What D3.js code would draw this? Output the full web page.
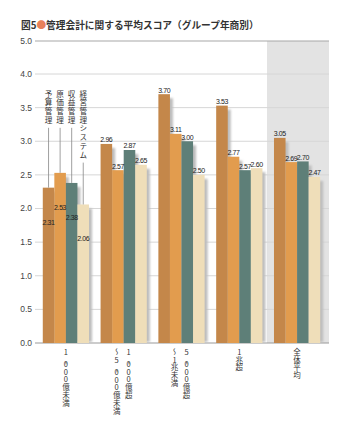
<!DOCTYPE html>
<html>
<head>
<meta charset="utf-8">
<script src="https://cdn.jsdelivr.net/npm/d3@7"></script>
<style>
  body { margin: 0; background: #fff; }
  svg { display: block; font-family: "Liberation Sans", "Noto Sans CJK JP", sans-serif; }
  .jp { font-family: "Noto Sans CJK JP", sans-serif; }
  .vert { writing-mode: vertical-rl; text-orientation: upright; }
</style>
</head>
<body>
<svg width="350" height="438"></svg>
<script>
// groups (x categories); each label is split into vertical columns, right column first
var groups = ['lt1000', '1000to5000', '5000to1cho', 'gt1cho', 'all'];
var groupLabels = [
    ['1,000億未満'],
    ['1,000億超', '～5,000億未満'],
    ['5,000億超', '～1兆未満'],
    ['1兆超'],
    ['全体平均']
];
var series = ['予算管理', '原価管理', '収益管理', '経営管理システム'];
var budgetValues = [2.31, 2.96, 3.70, 3.53, 3.05];
var costValues = [2.53, 2.57, 3.11, 2.77, 2.69];
var revenueValues = [2.38, 2.87, 3.00, 2.57, 2.70];
var systemValues = [2.06, 2.65, 2.50, 2.60, 2.47];
var yTicks = [0, 0.5, 1, 1.5, 2, 2.5, 3, 3.5, 4, 5];
var colors = ['#c4874a', '#e29c4e', '#5e7f78', '#efdeb9'];

var svg = d3.select('svg');
var plot = {l: 35, r: 329, t: 41, b: 343};

var seriesValues = [budgetValues, costValues, revenueValues, systemValues];
var data = groups.map(function(g, i) {
    return series.map(function(s, j) {
        return {group: g, gi: i, series: s, si: j, value: seriesValues[j][i]};
    });
});

// the axis is compressed above 4.0
var y = d3.scaleLinear().domain([0, 4, 5]).range([plot.b, 74, plot.t]);
var x = d3.scaleBand().domain(groups).range([37, 326]).paddingInner(0.2).paddingOuter(0.1);
var xs = d3.scaleBand().domain(series).range([0, x.bandwidth()]);

// title
var title = svg.append('text')
    .attr('class', 'jp')
    .attr('x', 21).attr('y', 29)
    .style('font-size', '9.7px')
    .style('font-weight', 'bold')
    .attr('fill', '#333');
title.append('tspan').text('図5');
title.append('tspan').attr('fill', '#e8805a').text('●');
title.append('tspan').text('管理会計に関する平均スコア（グループ年商別）');

// gray panel behind total
svg.append('rect')
    .attr('x', x('all') - 7)
    .attr('y', plot.t)
    .attr('width', plot.r - (x('all') - 7))
    .attr('height', plot.b - plot.t)
    .attr('fill', '#e3e3e3');

// grid
svg.append('g').selectAll('line')
    .data(yTicks)
    .enter().append('line')
    .attr('x1', plot.l).attr('x2', plot.r)
    .attr('y1', function(d) { return y(d); })
    .attr('y2', function(d) { return y(d); })
    .attr('stroke', function(d) { return d === 5 ? '#a8a8a8' : (d === 0 ? '#999' : '#d6d6d6'); })
    .attr('stroke-width', function(d) { return d === 5 ? 1.2 : 1; });

svg.append('g').selectAll('text')
    .data(yTicks)
    .enter().append('text')
    .attr('x', 32)
    .attr('y', function(d) { return y(d); })
    .attr('dy', '0.35em')
    .attr('text-anchor', 'end')
    .style('font-size', '8.5px')
    .attr('fill', '#444')
    .text(function(d) { return d.toFixed(1); });

// shadows
var defs = svg.append('defs');
defs.append('filter').attr('id', 'blur')
    .attr('x', '-50%').attr('width', '200%')
    .append('feGaussianBlur').attr('stdDeviation', 1.3);

var flat = d3.merge(data);

svg.append('g').selectAll('rect')
    .data(flat)
    .enter().append('rect')
    .attr('x', function(d) { return x(d.group) + xs(d.series) + 3; })
    .attr('y', function(d) { return y(d.value) + 4; })
    .attr('width', xs.bandwidth())
    .attr('height', function(d) { return plot.b - 1 - y(d.value) - 4; })
    .attr('fill', '#bdbdbd')
    .attr('filter', 'url(#blur)');

svg.append('g').selectAll('rect')
    .data(flat)
    .enter().append('rect')
    .attr('x', function(d) { return x(d.group) + xs(d.series); })
    .attr('y', function(d) { return y(d.value); })
    .attr('width', xs.bandwidth())
    .attr('height', function(d) { return plot.b - y(d.value); })
    .attr('fill', function(d) { return colors[d.si]; });

// value labels (first group sits inside the bars, below the leader lines)
svg.append('g').selectAll('text')
    .data(flat)
    .enter().append('text')
    .attr('x', function(d) { return x(d.group) + xs(d.series) + xs.bandwidth() / 2; })
    .attr('y', function(d) { return d.gi === 0 ? y(d.value) + 37 : y(d.value) - 1.5; })
    .attr('text-anchor', 'middle')
    .style('font-size', '7px')
    .style('letter-spacing', '-0.4px')
    .attr('fill', '#222')
    .text(function(d) { return d.value.toFixed(2); });

// one column of vertical text, returns the bottom y
function verticalText(g, str, cx, top, size, spacing) {
    var t = g.append('text')
        .attr('class', 'jp vert')
        .attr('x', cx).attr('y', top)
        .style('font-size', size + 'px')
        .style('letter-spacing', spacing + 'px')
        .attr('fill', '#333');
    // commas get a short advance
    str.split(/(,)/).forEach(function(part) {
        if (!part) return;
        var ts = t.append('tspan').text(part);
        if (part === ',') ts.style('letter-spacing', (-size * 0.5) + 'px');
    });
    var len = t.node().getComputedTextLength();
    return top + len;
}

// legend: vertical labels over the first group with leader lines
var legendG = svg.append('g');
data[0].forEach(function(d) {
    var cx = x(d.group) + xs(d.series) + xs.bandwidth() / 2;
    var end = verticalText(legendG, d.series, cx, 90, 7.6, 1.1);
    legendG.append('line')
        .attr('x1', cx).attr('x2', cx)
        .attr('y1', end + 3).attr('y2', y(d.value))
        .attr('stroke', '#888')
        .attr('stroke-width', 0.8);
});

// x labels
var xLabelG = svg.append('g');
groups.forEach(function(g, i) {
    var cols = groupLabels[i];
    var cx = x(g) + x.bandwidth() / 2;
    cols.forEach(function(col, k) {
        var off = cols.length === 1 ? 0 : (k === 0 ? 5 : -7);
        verticalText(xLabelG, col, cx + off, 348, 7.5, 0.4);
    });
});
</script>
</body>
</html>
